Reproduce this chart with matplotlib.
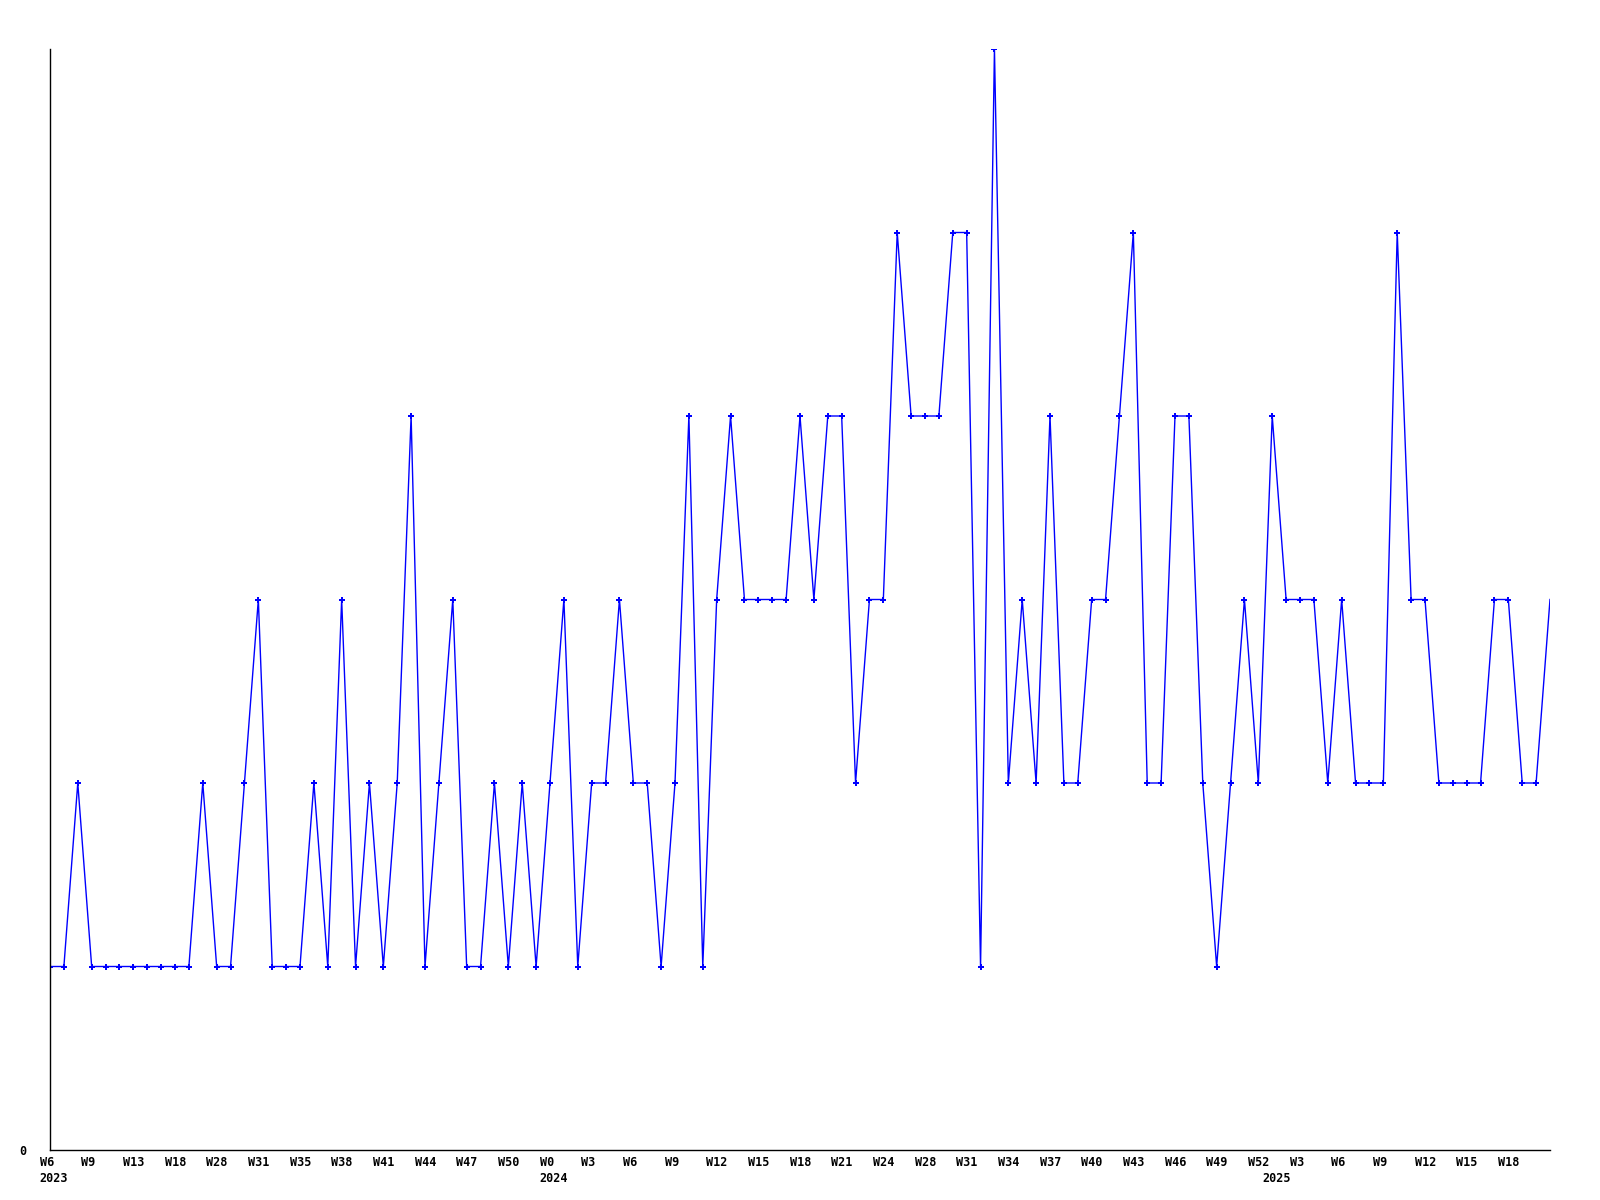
import matplotlib
matplotlib.use("Agg")
import matplotlib.pyplot as plt
import matplotlib.transforms as mtransforms

values = [1, 1, 2, 1, 1, 1, 1, 1, 1, 1, 1, 2, 1, 1, 2, 3, 1, 1, 1, 2,
          1, 3, 1, 2, 1, 2, 4, 1, 2, 3, 1, 1, 2, 1, 2, 1, 2, 3, 1, 2,
          2, 3, 2, 2, 1, 2, 4, 1, 3, 4, 3, 3, 3, 3, 4, 3, 4, 4, 2, 3,
          3, 5, 4, 4, 4, 5, 5, 1, 6, 2, 3, 2, 4, 2, 2, 3, 3, 4, 5, 2,
          2, 4, 4, 2, 1, 2, 3, 2, 4, 3, 3, 3, 2, 3, 2, 2, 2, 5, 3, 3,
          2, 2, 2, 2, 3, 3, 2, 2, 3]

week_labels = ["W6", "W9", "W13", "W18", "W28", "W31", "W35", "W38", "W41",
               "W44", "W47", "W50", "W0", "W3", "W6", "W9", "W12", "W15",
               "W18", "W21", "W24", "W28", "W31", "W34", "W37", "W40", "W43",
               "W46", "W49", "W52", "W3", "W6", "W9", "W12", "W15", "W18"]
label_step = 3
years = ["2023", "2024", "2025"]
year_index = [0, 36, 88]

font = dict(family="DejaVu Sans Mono", weight="bold", size=8.5)

fig = plt.figure(figsize=(16, 12), dpi=100)
ax = fig.add_axes([50 / 1600, 1 - 1150 / 1200, 1500 / 1600, 1101 / 1200])

x = list(range(len(values)))
ax.plot(x, values, color="#0000ff", linewidth=1.0, marker="P", markersize=4,
        markevery=list(range(len(values) - 1)), markeredgewidth=0)

ax.set_xlim(0, len(values) - 1)
ax.set_ylim(0, 6)

for s in ["top", "right"]:
    ax.spines[s].set_visible(False)
for s in ["left", "bottom"]:
    ax.spines[s].set_color("black")
    ax.spines[s].set_linewidth(1.0)

shift = mtransforms.ScaledTranslation(-10.2 / 100, 0, fig.dpi_scale_trans)

ax.set_xticks(list(range(0, len(week_labels) * label_step, label_step)))
ax.set_xticklabels(week_labels, **font)
ax.tick_params(axis="x", length=0, pad=4)
for lab in ax.get_xticklabels():
    lab.set_horizontalalignment("left")
    lab.set_transform(lab.get_transform() + shift)

ax.set_yticks([0])
ax.set_yticklabels(["0"], **font)
ax.tick_params(axis="y", length=0, pad=17)

trans = mtransforms.blended_transform_factory(ax.transData, ax.transAxes)
for yr, idx in zip(years, year_index):
    ax.annotate(yr, xy=(idx, 0), xycoords=trans, xytext=(-7.3, -16),
                textcoords="offset points", ha="left", va="top", **font)

fig.savefig("out.png", dpi=100)
